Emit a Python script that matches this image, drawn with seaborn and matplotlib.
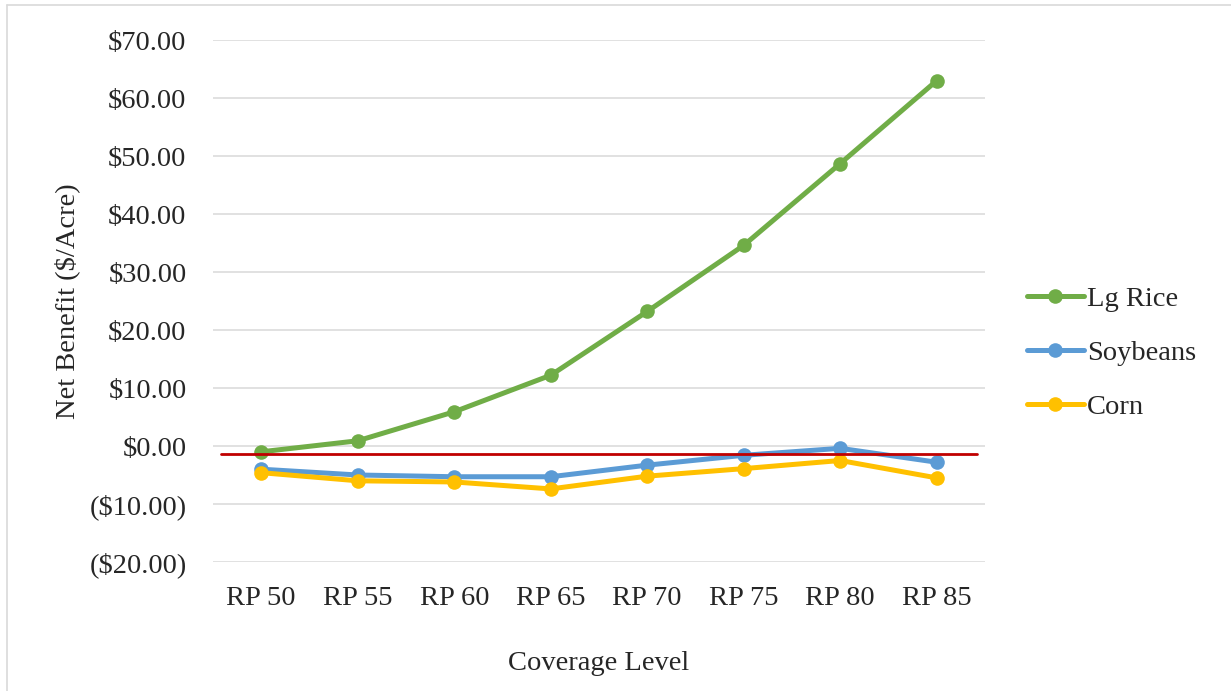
import pandas as pd
import numpy as np
import matplotlib
matplotlib.use("Agg")
import matplotlib.pyplot as plt
from matplotlib.lines import Line2D
import seaborn as sns

levels = ["RP 50", "RP 55", "RP 60", "RP 65", "RP 70", "RP 75", "RP 80", "RP 85"]
lg_rice = [-1.0, 0.9, 5.9, 12.2, 23.2, 34.6, 48.7, 63.0]
soybeans = [-4.0, -5.0, -5.3, -5.3, -3.3, -1.6, -0.4, -2.8]
corn = [-4.6, -6.0, -6.2, -7.4, -5.2, -3.9, -2.5, -5.5]
crops = ["Lg Rice", "Soybeans", "Corn"]
breakeven = -1.3
y_ticks = [-20, -10, 0, 10, 20, 30, 40, 50, 60, 70]

colors = {"Lg Rice": "#70AD47", "Soybeans": "#5B9BD5", "Corn": "#FFC000"}

df = pd.DataFrame({
    "level": levels * 3,
    "crop": ["Lg Rice"] * 8 + ["Soybeans"] * 8 + ["Corn"] * 8,
    "value": lg_rice + soybeans + corn,
})

sns.set_theme(style="white")
plt.rcParams["font.family"] = ["Liberation Serif", "DejaVu Serif"]
fs = 20.5

fig = plt.figure(figsize=(12.31, 6.91), dpi=100)
ax = fig.add_axes([213 / 1231, 1 - 562 / 691, (985 - 213) / 1231, (562 - 40) / 691])

for y in y_ticks:
    ax.axhline(y, color="#D9D9D9", lw=1.1, zorder=0)

sns.lineplot(data=df, x="level", y="value", hue="crop", hue_order=crops,
             palette=colors, marker="o", markersize=10.5, markeredgewidth=0,
             linewidth=3.6, sort=False, legend=False, ax=ax)

ax.axhline(breakeven, xmin=0.01, xmax=0.99, color="#C00000", lw=2.0, zorder=5)

ax.set_xlim(-0.5, len(levels) - 0.5)
ax.set_ylim(-20, 70)
ax.set_yticks(y_ticks)
ax.set_yticklabels([f"${v:.2f}" if v >= 0 else f"(${-v:.2f})" for v in y_ticks])
ax.tick_params(axis="y", labelsize=fs, pad=19, length=0)
ax.tick_params(axis="x", labelsize=fs, pad=17, length=0)
for s in ax.spines.values():
    s.set_visible(False)

ax.set_xlabel("Coverage Level", fontsize=fs, labelpad=29)
ax.set_ylabel("Net Benefit ($/Acre)", fontsize=fs, labelpad=7)

handles = [Line2D([0], [0], color=colors[c], lw=3.6, marker="o", markersize=10.5,
                  markeredgewidth=0) for c in crops]
fig.legend(handles, crops, loc="center left", bbox_to_anchor=(1027 / 1231, 1 - 353 / 691),
           frameon=False, fontsize=fs, handlelength=2.0, handletextpad=0.1,
           labelspacing=1.0, borderpad=0, borderaxespad=0)

# light frame along the top and left edges of the image
fig.add_artist(Line2D([7 / 1231, 1], [1 - 5 / 691, 1 - 5 / 691], color="#D9D9D9", lw=1.2))
fig.add_artist(Line2D([7 / 1231, 7 / 1231], [0, 1 - 5 / 691], color="#D9D9D9", lw=1.2))

fig.savefig("out.png", dpi=100)
